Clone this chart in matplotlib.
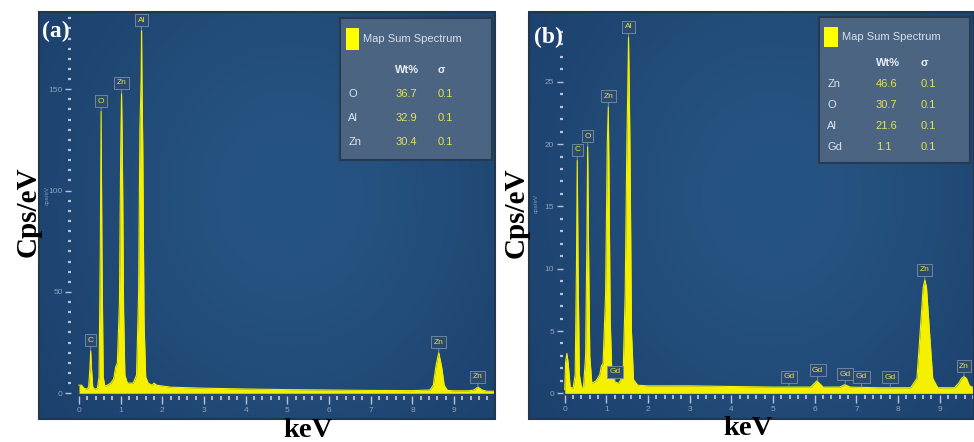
import numpy as np
import matplotlib.pyplot as plt
from matplotlib import font_manager
from matplotlib.patches import Rectangle
from matplotlib.ticker import FixedLocator

installed = {f.name for f in font_manager.fontManager.ttflist}
narrow = 'Liberation Sans Narrow' if 'Liberation Sans Narrow' in installed else 'Liberation Sans'
plt.rcParams['font.family'] = [narrow, 'DejaVu Sans']

# (a) spectrum outline
energy_a = [0.0, 0.06, 0.12, 0.18, 0.23, 0.26, 0.28, 0.30, 0.33, 0.38, 0.44,
            0.48, 0.51, 0.53, 0.55, 0.58, 0.62, 0.68, 0.76, 0.83, 0.88, 0.92,
            0.97, 1.00, 1.02, 1.04, 1.07, 1.10, 1.16, 1.30, 1.38, 1.43, 1.46,
            1.49, 1.50, 1.51, 1.53, 1.56, 1.60, 1.66, 1.75, 1.80, 1.86, 2.2,
            3.0, 4.0, 5.0, 6.0, 7.0, 8.0, 8.42, 8.50, 8.56, 8.63, 8.70, 8.76,
            8.84, 9.0, 9.35, 9.47, 9.57, 9.67, 9.78, 9.98]
counts_a = [4, 4, 2.5, 2, 3, 12, 21, 12, 3, 2, 2.5,
            8, 70, 139, 70, 8, 3.5, 4, 5, 7, 13, 15,
            45, 120, 148, 120, 40, 9, 5, 5, 9, 50, 130,
            155, 179, 155, 120, 35, 8, 5, 4, 5, 4, 3,
            2.5, 2.1, 1.8, 1.6, 1.4, 1.3, 1.6, 4, 13, 20, 13, 4,
            1.4, 1.2, 1.2, 1.6, 3, 1.6, 1.0, 1.0]

# (b) spectrum outline
energy_b = [0.0, 0.02, 0.05, 0.08, 0.13, 0.2, 0.25, 0.28, 0.30, 0.32, 0.35,
            0.40, 0.45, 0.50, 0.53, 0.55, 0.57, 0.60, 0.65, 0.75, 0.84, 0.88,
            0.92, 0.98, 1.02, 1.045, 1.06, 1.09, 1.13, 1.21, 1.30, 1.40, 1.45,
            1.49, 1.51, 1.53, 1.55, 1.57, 1.60, 1.65, 1.75, 2.0, 3.0, 4.0, 5.0,
            5.9, 6.05, 6.2, 6.6, 6.72, 6.85, 7.5, 8.3, 8.45, 8.53, 8.60, 8.64,
            8.68, 8.75, 8.83, 8.95, 9.35, 9.45, 9.52, 9.58, 9.64, 9.71, 9.82]
counts_b = [0.3, 2.5, 3.2, 2.5, 0.5, 0.4, 1.5, 10, 18.7, 10, 1.5,
            0.5, 0.5, 3, 12, 19.8, 12, 3, 0.8, 1.0, 1.5, 2.2,
            2.4, 8, 20, 23, 18, 6, 1.5, 0.9, 0.8, 1.5, 8,
            20, 24, 28.6, 24, 18, 5, 1.1, 0.65, 0.6, 0.6, 0.55, 0.5,
            0.5, 1.0, 0.5, 0.5, 0.7, 0.5, 0.45, 0.45, 1.2, 5, 8.5, 9.1,
            8.5, 5, 1.2, 0.45, 0.45, 0.8, 1.2, 1.35, 1.2, 0.6, 0.45]

# peak labels
peaks_a = ['C', 'O', 'Zn', 'Al', 'Zn', 'Zn']
peak_keV_a = [0.28, 0.53, 1.02, 1.50, 8.63, 9.57]
peak_top_a = [21, 139, 148, 179, 20, 3]

peaks_b = ['C', 'O', 'Zn', 'Gd', 'Al', 'Gd', 'Gd', 'Gd', 'Gd', 'Gd', 'Zn', 'Zn']
peak_keV_b = [0.30, 0.55, 1.045, 1.21, 1.53, 5.38, 6.07, 6.73, 7.12, 7.81, 8.64, 9.58]
peak_top_b = [18.7, 19.8, 23, 0.9, 28.6, 0.5, 1.0, 0.7, 0.5, 0.45, 9.1, 1.35]

# quantification tables
elements_a = ['O', 'Al', 'Zn']
wt_a = ['36.7', '32.9', '30.4']
sigma_a = ['0.1', '0.1', '0.1']

elements_b = ['Zn', 'O', 'Al', 'Gd']
wt_b = ['46.6', '30.7', '21.6', '1.1']
sigma_b = ['0.1', '0.1', '0.1', '0.1']

YELLOW = '#f4f000'
LABEL_YELLOW = '#e3e34a'
serif = 'Liberation Serif'
leg_size = 9.5 if narrow == 'Liberation Sans Narrow' else 8


def draw_panel(ax, energy, counts, names, pk_e, pk_top, elements, wt, sigma, lay):
    # blue background with a soft glow in the middle
    gx, gy = np.meshgrid(np.linspace(0, 1, 200), np.linspace(0, 1, 100))
    glow = np.exp(-((gx - 0.55) ** 2 / 0.3 + (gy - 0.55) ** 2 / 0.5))
    dark = np.array([26, 60, 104]) / 255
    light = np.array([38, 84, 130]) / 255
    img = dark + (light - dark) * glow[..., None]
    ax.imshow(img, extent=(0, 1, 0, 1), transform=ax.transAxes, aspect='auto',
              origin='lower', zorder=0)

    ax.fill_between(energy, counts, 0, color=YELLOW, lw=0, zorder=2)
    ax.plot(energy, counts, color=YELLOW, lw=0.8, zorder=2)

    ax.set_xlim(lay['xlim'])
    ax.set_ylim(lay['ylim'])

    for s in ['top', 'right']:
        ax.spines[s].set_visible(False)
    ax.spines['left'].set_position(('data', lay['yaxis_at']))
    ax.spines['bottom'].set_position(('data', lay['xaxis_at']))
    ax.spines['left'].set_visible(False)
    ax.spines['bottom'].set_visible(False)

    # ticks only from zero upward, like the instrument software
    ax.xaxis.set_major_locator(FixedLocator(np.arange(0, 10)))
    ax.xaxis.set_minor_locator(FixedLocator(np.arange(0, 9.9, 0.2)))
    ax.yaxis.set_major_locator(FixedLocator(np.arange(0, lay['ylast'] + 1, lay['ystep'])))
    ax.yaxis.set_minor_locator(FixedLocator(np.arange(0, lay['ylim'][1] - 1, lay['ysub'])))
    ax.tick_params(which='both', direction='out', color='#b7c3d4',
                   labelcolor='#8ea3bf', labelsize=6)
    ax.tick_params(axis='x', which='major', length=5.5, width=1.0, pad=2.5)
    ax.tick_params(axis='x', which='minor', length=2.8, width=1.3)
    ax.tick_params(axis='y', which='major', length=4.5, width=1.0, pad=1.5)
    ax.tick_params(axis='y', which='minor', length=2.5, width=1.6)

    ax.add_patch(Rectangle((0, 0), 1, 1, transform=ax.transAxes, fill=False,
                           edgecolor='#22364e', lw=1.5, clip_on=False, zorder=6))

    for name, e, top in zip(names, pk_e, pk_top):
        ax.annotate(name, xy=(e, top), xytext=(0, 7.5), textcoords='offset points',
                    ha='center', va='center', fontsize=6, color=LABEL_YELLOW,
                    bbox=dict(boxstyle='square,pad=0.3', fc='#2a4a70', ec='#7b8fa8', lw=0.6),
                    arrowprops=dict(arrowstyle='-', color='#8597ae', lw=0.6,
                                    shrinkA=0, shrinkB=0),
                    zorder=4)

    ax.text(lay['tag_x'], lay['tag_y'], lay['tag'], transform=ax.transAxes,
            ha='left', va='center', color='white', fontsize=17,
            fontweight='bold', family=serif, zorder=5)
    ax.text(0.017, lay['unit_y'], 'cps/eV', transform=ax.transAxes, rotation=90,
            ha='center', va='center', fontsize=4.5, color='#7d97b8')

    # quantification box
    x0, y0, x1, y1 = lay['box']
    ax.add_patch(Rectangle((x0, y0), x1 - x0, y1 - y0, transform=ax.transAxes,
                           fc='#4a6482', ec='#283a52', lw=1.5, zorder=5))
    sx, sy, sw, sh = lay['square']
    ax.add_patch(Rectangle((sx, sy), sw, sh, transform=ax.transAxes,
                           fc='#ffff00', ec='none', zorder=6))
    ax.text(lay['title_x'], sy + sh / 2, 'Map Sum Spectrum', transform=ax.transAxes,
            ha='left', va='center', color='#d9e0e8', fontsize=leg_size, zorder=6)
    cn, cv, cs = lay['cols']
    ax.text(cv, lay['head_y'], 'Wt%', transform=ax.transAxes, ha='left', va='center',
            color='#e8edf2', fontsize=leg_size, fontweight='bold', zorder=6)
    ax.text(cs, lay['head_y'], 'σ', transform=ax.transAxes, ha='left', va='center',
            color='#e8edf2', fontsize=leg_size, fontweight='bold', zorder=6)
    for el, w, s, yy in zip(elements, wt, sigma, lay['rows']):
        ax.text(cn, yy, el, transform=ax.transAxes, ha='left', va='center',
                color='#dde3ea', fontsize=leg_size, zorder=6)
        ax.text(cv, yy, w, transform=ax.transAxes, ha='left', va='center',
                color=LABEL_YELLOW, fontsize=leg_size, zorder=6)
        ax.text(cs, yy, s, transform=ax.transAxes, ha='left', va='center',
                color=LABEL_YELLOW, fontsize=leg_size, zorder=6)


fig = plt.figure(figsize=(9.74, 4.42), dpi=100)
ax_a = fig.add_axes([39 / 974, 23 / 442, 456 / 974, 407 / 442])
ax_b = fig.add_axes([529 / 974, 23 / 442, 445 / 974, 407 / 442])

layout_a = dict(xlim=(-0.96, 9.98), ylim=(-12.7, 188.1), ystep=50, ysub=5, ylast=150,
                yaxis_at=-0.19, xaxis_at=-1.3, tag='(a)', tag_x=0.007, tag_y=0.951,
                unit_y=0.55, box=(0.660, 0.636, 0.993, 0.985),
                square=(0.673, 0.907, 0.0285, 0.054), title_x=0.711, head_y=0.857,
                rows=[0.799, 0.740, 0.681], cols=(0.678, 0.781, 0.875))
layout_b = dict(xlim=(-0.858, 9.82), ylim=(-2.06, 30.6), ystep=5, ysub=1, ylast=25,
                yaxis_at=-0.05, xaxis_at=-0.14, tag='(b)', tag_x=0.011, tag_y=0.937,
                unit_y=0.53, box=(0.652, 0.629, 0.991, 0.988),
                square=(0.664, 0.914, 0.030, 0.049), title_x=0.703, head_y=0.875,
                rows=[0.823, 0.771, 0.720, 0.668], cols=(0.670, 0.779, 0.880))

draw_panel(ax_a, energy_a, counts_a, peaks_a, peak_keV_a, peak_top_a,
           elements_a, wt_a, sigma_a, layout_a)
draw_panel(ax_b, energy_b, counts_b, peaks_b, peak_keV_b, peak_top_b,
           elements_b, wt_b, sigma_b, layout_b)

fig.text(28 / 974, 1 - 212 / 442, 'Cps/eV', rotation=90, ha='center', va='center',
         fontsize=21, fontweight='bold', family=serif)
fig.text(516 / 974, 1 - 213 / 442, 'Cps/eV', rotation=90, ha='center', va='center',
         fontsize=21, fontweight='bold', family=serif)
fig.text(308 / 974, 1 - 437 / 442, 'keV', ha='center', va='baseline',
         fontsize=20.5, fontweight='bold', family=serif)
fig.text(748 / 974, 1 - 435 / 442, 'keV', ha='center', va='baseline',
         fontsize=20.5, fontweight='bold', family=serif)

fig.savefig('out.png', dpi=100)
